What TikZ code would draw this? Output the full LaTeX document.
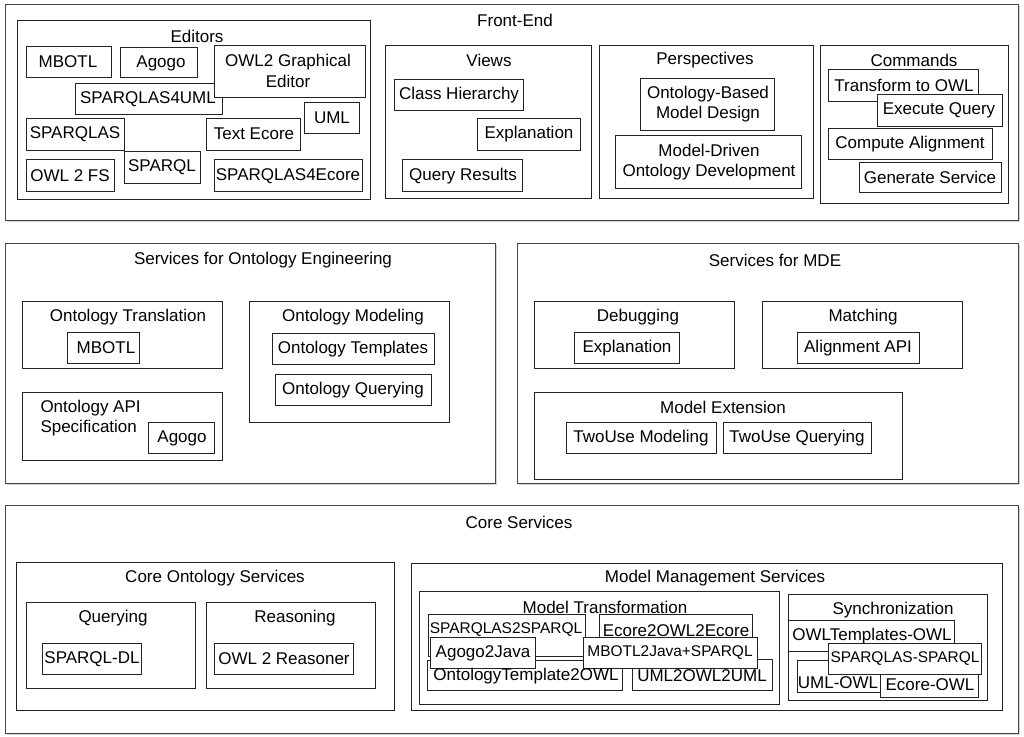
\documentclass[tikz,border=0pt]{standalone}
\usepackage{fontspec}
\setmainfont{Liberation Sans}
\usetikzlibrary{shadows}
\newcommand{\lblfont}{\fontsize{12.75}{15.5}\selectfont}
\newcommand{\lblnarrow}{\fontsize{11.6}{13}\selectfont}

\tikzset{every picture/.style={line width=0.75pt}}
\tikzset{
  box/.style={draw={rgb, 255:red, 35; green, 35; blue, 35 }, fill=white},
  outerbox/.style={draw={rgb, 255:red, 70; green, 70; blue, 70 }, fill=white,
    drop shadow={shadow xshift=1.3pt, shadow yshift=-1.3pt, opacity=0.35}},
  lbl/.style={inner sep=0.75pt, font=\lblfont, align=center},
  narrow/.style={lbl, font=\lblnarrow},
}

\begin{document}
\begin{tikzpicture}[x=0.75pt,y=0.75pt,yscale=-1,xscale=1]
\useasboundingbox (0,0) rectangle (1024,736);

%%% Front-End
%Shape: Rectangle
\draw  [outerbox] (5,4) -- (1018,4) -- (1018,220) -- (5,220) -- cycle ;
%Shape: Rectangle
\draw  [box] (17,20) -- (370,20) -- (370,199) -- (17,199) -- cycle ;
\draw  [box] (26,46) -- (111,46) -- (111,77) -- (26,77) -- cycle ;
\draw  [box] (120,47) -- (197,47) -- (197,77) -- (120,77) -- cycle ;
\draw  [box] (75,83) -- (222,83) -- (222,114) -- (75,114) -- cycle ;
\draw  [box] (214,45) -- (365,45) -- (365,97) -- (214,97) -- cycle ;
\draw  [box] (304,102) -- (359,102) -- (359,133) -- (304,133) -- cycle ;
\draw  [box] (26,118) -- (124,118) -- (124,150) -- (26,150) -- cycle ;
\draw  [box] (206,118) -- (300,118) -- (300,150) -- (206,150) -- cycle ;
\draw  [box] (26,159) -- (114,159) -- (114,191) -- (26,191) -- cycle ;
\draw  [box] (124,151) -- (200,151) -- (200,183) -- (124,183) -- cycle ;
\draw  [box] (214,159) -- (362,159) -- (362,191) -- (214,191) -- cycle ;
%Shape: Rectangle
\draw  [box] (385,45) -- (591,45) -- (591,198) -- (385,198) -- cycle ;
\draw  [box] (394,79) -- (523,79) -- (523,110) -- (394,110) -- cycle ;
\draw  [box] (477,118) -- (580,118) -- (580,150) -- (477,150) -- cycle ;
\draw  [box] (402,159) -- (522,159) -- (522,191) -- (402,191) -- cycle ;
%Shape: Rectangle
\draw  [box] (599,45) -- (813,45) -- (813,198) -- (599,198) -- cycle ;
\draw  [box] (640,78) -- (774,78) -- (774,130) -- (640,130) -- cycle ;
\draw  [box] (615,135) -- (801,135) -- (801,188) -- (615,188) -- cycle ;
%Shape: Rectangle
\draw  [box] (820,45) -- (1008,45) -- (1008,203) -- (820,203) -- cycle ;
\draw  [box] (828,69) -- (978,69) -- (978,101) -- (828,101) -- cycle ;
\draw  [box] (877,94) -- (1002,94) -- (1002,126) -- (877,126) -- cycle ;
\draw  [box] (828,128) -- (992,128) -- (992,159) -- (828,159) -- cycle ;
\draw  [box] (859,162) -- (1001,162) -- (1001,192) -- (859,192) -- cycle ;

%%% Services for Ontology Engineering
%Shape: Rectangle
\draw  [outerbox] (5,243) -- (495,243) -- (495,483) -- (5,483) -- cycle ;
\draw  [box] (22,301) -- (222,301) -- (222,368) -- (22,368) -- cycle ;
\draw  [box] (67,332) -- (139,332) -- (139,363) -- (67,363) -- cycle ;
\draw  [box] (22,392) -- (222,392) -- (222,460) -- (22,460) -- cycle ;
\draw  [box] (148,422) -- (214,422) -- (214,453) -- (148,453) -- cycle ;
\draw  [box] (249,301) -- (449,301) -- (449,422) -- (249,422) -- cycle ;
\draw  [box] (272,333) -- (434,333) -- (434,364) -- (272,364) -- cycle ;
\draw  [box] (275,374) -- (431,374) -- (431,405) -- (275,405) -- cycle ;

%%% Services for MDE
%Shape: Rectangle
\draw  [outerbox] (517,243) -- (1018,243) -- (1018,483) -- (517,483) -- cycle ;
\draw  [box] (534,301) -- (734,301) -- (734,368) -- (534,368) -- cycle ;
\draw  [box] (574,332) -- (679,332) -- (679,363) -- (574,363) -- cycle ;
\draw  [box] (762,301) -- (962,301) -- (962,368) -- (762,368) -- cycle ;
\draw  [box] (797,332) -- (919,332) -- (919,363) -- (797,363) -- cycle ;
\draw  [box] (534,392) -- (902,392) -- (902,479) -- (534,479) -- cycle ;
\draw  [box] (566,422) -- (716,422) -- (716,453) -- (566,453) -- cycle ;
\draw  [box] (723,422) -- (871,422) -- (871,453) -- (723,453) -- cycle ;

%%% Core Services
%Shape: Rectangle
\draw  [outerbox] (5,505) -- (1018,505) -- (1018,733) -- (5,733) -- cycle ;
\draw  [box] (16,562) -- (394,562) -- (394,710) -- (16,710) -- cycle ;
\draw  [box] (26,602) -- (195,602) -- (195,688) -- (26,688) -- cycle ;
\draw  [box] (42,643) -- (141,643) -- (141,674) -- (42,674) -- cycle ;
\draw  [box] (206,602) -- (375,602) -- (375,688) -- (206,688) -- cycle ;
\draw  [box] (214,643) -- (353,643) -- (353,674) -- (214,674) -- cycle ;
%Shape: Rectangle
\draw  [box] (411,563) -- (1002,563) -- (1002,710) -- (411,710) -- cycle ;
\draw  [box] (419,591) -- (779,591) -- (779,704) -- (419,704) -- cycle ;
\draw  [box] (428,614) -- (585,614) -- (585,656) -- (428,656) -- cycle ;
\draw  [box] (599,614) -- (752,614) -- (752,650) -- (599,650) -- cycle ;
\draw  [box] (427,660) -- (622,660) -- (622,690) -- (427,690) -- cycle ;
\draw  [box] (632,659) -- (772,659) -- (772,690) -- (632,690) -- cycle ;
\draw  [box] (430,637) -- (535,637) -- (535,668) -- (430,668) -- cycle ;
\draw  [box] (583,637) -- (757,637) -- (757,668) -- (583,668) -- cycle ;
%Shape: Rectangle
\draw  [box] (788,594) -- (987,594) -- (987,700) -- (788,700) -- cycle ;
\draw  [box] (788,620) -- (954,620) -- (954,651) -- (788,651) -- cycle ;
\draw  [box] (797,660) -- (882,660) -- (882,692) -- (797,692) -- cycle ;
\draw  [box] (828,643) -- (981,643) -- (981,674) -- (828,674) -- cycle ;
\draw  [box] (880,674) -- (978,674) -- (978,697) -- (880,697) -- cycle ;

% Text Node
\draw (515,20) node [lbl] (frontend) {Front-End};
\draw (197,36) node [lbl] (editors) {Editors};
\draw (68,62) node [lbl] (edMbotl) {MBOTL};
\draw (161,63) node [lbl] (edAgogo) {Agogo};
\draw (288,71) node [lbl] (edGraph) {OWL2 Graphical\\Editor};
\draw (148,99) node [lbl] (edS4uml) {SPARQLAS4UML};
\draw (332,118) node [lbl] (edUml) {UML};
\draw (75,134) node [lbl] (edSparqlas) {SPARQLAS};
\draw (254,134) node [lbl] (edTextEcore) {Text Ecore};
\draw (70,176) node [lbl] (edOwlfs) {OWL 2 FS};
\draw (162,167) node [lbl] (edSparql) {SPARQL};
\draw (288,176) node [lbl] (edS4ecore) {SPARQLAS4Ecore};
% Text Node
\draw (489,60) node [lbl] (views) {Views};
\draw (459,95) node [lbl] (vwHier) {Class Hierarchy};
\draw (529,134) node [lbl] (vwExpl) {Explanation};
\draw (463,176) node [lbl] (vwResults) {Query Results};
% Text Node
\draw (705,60) node [lbl] (persp) {Perspectives};
\draw (708,104) node [lbl] (psOnto) {Ontology-Based\\Model Design};
\draw (709,162) node [lbl] (psModel) {Model-Driven\\Ontology Development};
% Text Node
\draw (914,60) node [lbl] (commands) {Commands};
\draw (904,85) node [lbl] (cmTransform) {Transform to OWL};
\draw (939,110) node [lbl] (cmExecute) {Execute Query};
\draw (910,144) node [lbl] (cmCompute) {Compute Alignment};
\draw (930,177) node [lbl] (cmGenerate) {Generate Service};

% Text Node
\draw (263,260) node [lbl] (soe) {Services for Ontology Engineering};
\draw (128,317) node [lbl] (otTrans) {Ontology Translation};
\draw (106,348) node [lbl] (otMbotl) {MBOTL};
\draw (39,418) node [lbl, anchor=west, align=left] (otApi) {Ontology API\\Specification};
\draw (182,438) node [lbl] (otAgogo) {Agogo};
\draw (353,317) node [lbl] (otModel) {Ontology Modeling};
\draw (353,349) node [lbl] (otTempl) {Ontology Templates};
\draw (353,390) node [lbl] (otQuery) {Ontology Querying};

% Text Node
\draw (775,260) node [lbl] (mde) {Services for MDE};
\draw (638,317) node [lbl] (mdDebug) {Debugging};
\draw (627,348) node [lbl] (mdExpl) {Explanation};
\draw (863,317) node [lbl] (mdMatch) {Matching};
\draw (858,348) node [lbl] (mdAlign) {Alignment API};
\draw (723,407) node [lbl] (mdExt) {Model Extension};
\draw (641,438) node [lbl] (mdTwoModel) {TwoUse Modeling};
\draw (797,438) node [lbl] (mdTwoQuery) {TwoUse Querying};

% Text Node
\draw (519,522) node [lbl] (core) {Core Services};
\draw (215,578) node [lbl] (coOnto) {Core Ontology Services};
\draw (113,618) node [lbl] (coQuery) {Querying};
\draw (92,659) node [lbl] (coSparqldl) {SPARQL-DL};
\draw (295,618) node [lbl] (coReason) {Reasoning};
\draw (284,659) node [lbl] (coReasoner) {OWL 2 Reasoner};
\draw (715,578) node [lbl] (mm) {Model Management Services};
\draw (605,607) node [lbl] (mmTrans) {Model Transformation};
\draw (506,630) node [narrow] (mmS2s) {SPARQLAS2SPARQL};
\draw (676,631) node [lbl] (mmEcore) {Ecore2OWL2Ecore};
\draw (483,653) node [lbl] (mmAgogo) {Agogo2Java};
\draw (670,653) node [narrow] (mmMbotl) {MBOTL2Java+SPARQL};
\draw (526,676) node [lbl] (mmTempl) {OntologyTemplate2OWL};
\draw (702,676) node [lbl] (mmUml) {UML2OWL2UML};
\draw (893,610) node [lbl] (mmSync) {Synchronization};
\draw (872,636) node [lbl] (syTempl) {OWLTemplates-OWL};
\draw (905,659) node [narrow] (sySparqlas) {SPARQLAS-SPARQL};
\draw (838,683) node [lbl] (syUml) {UML-OWL};
\draw (930,685) node [lbl] (syEcore) {Ecore-OWL};

\end{tikzpicture}
\end{document}
